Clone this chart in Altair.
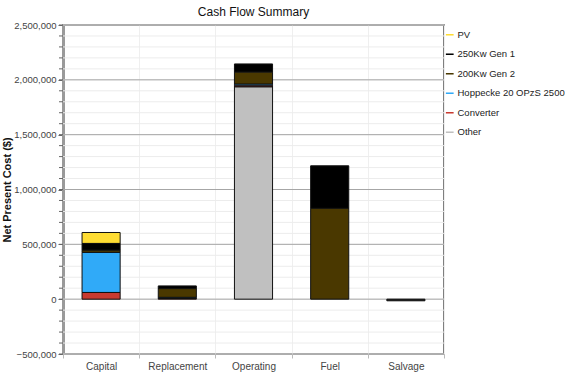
import altair as alt
import pandas as pd

# Cash flow categories and net present cost per component (USD)
categories = ["Capital", "Replacement", "Operating", "Fuel", "Salvage"]
components = ["PV", "250Kw Gen 1", "200Kw Gen 2", "Hoppecke 20 OPzS 2500", "Converter", "Other"]
colors = ["#ffdd33", "#000000", "#4a3800", "#30aaf8", "#c83a30", "#c0c0c0"]

pv = [100000, 0, 0, 0, 0]
gen1 = [62000, 25000, 75000, 388000, -15000]
gen2 = [20000, 80000, 110000, 828000, 0]
hoppecke = [365000, 10000, 15000, 0, 0]
converter = [61000, 6000, 10000, 0, 0]
other = [0, 0, 1935000, 0, 0]

# y axis: labelled major steps and unlabelled minor steps
major_values = [-500000, 0, 500000, 1000000, 1500000, 2000000, 2500000]
minor_values = list(range(-500000, 2500001, 100000))

# stacking order from the bottom up
stack_rank = {"Other": 0, "Converter": 1, "Hoppecke 20 OPzS 2500": 2,
              "200Kw Gen 2": 3, "250Kw Gen 1": 4, "PV": 5}

series = dict(zip(components, [pv, gen1, gen2, hoppecke, converter, other]))
rows = []
for comp, vals in series.items():
    for cat, v in zip(categories, vals):
        if v != 0:
            rows.append({"category": cat, "component": comp, "cost": v,
                         "rank": stack_rank[comp]})
df = pd.DataFrame(rows)

major_df = pd.DataFrame({"y": major_values})
minor_df = pd.DataFrame({"y": minor_values})

FONT = "Liberation Sans"

y_scale = alt.Scale(domain=[-500000, 2500000], nice=False, zero=False)

minor_grid = alt.Chart(minor_df).mark_rule(color="#ececec", strokeWidth=1).encode(
    y=alt.Y("y:Q", scale=y_scale, axis=None)
)

minor_ticks = alt.Chart(minor_df).mark_rule(color="#666666", strokeWidth=1).encode(
    x=alt.value(-4), x2=alt.value(0),
    y=alt.Y("y:Q", scale=y_scale, axis=None)
)

major_grid = alt.Chart(major_df).mark_rule(color="#a6a6a6", strokeWidth=1).encode(
    y=alt.Y("y:Q", scale=y_scale, title="Net Present Cost ($)",
            axis=alt.Axis(values=major_values, format=",d", grid=False,
                          labelOverlap=False, labelBound=False, labelFlush=False,
                          tickSize=5, tickColor="#666666",
                          domainColor="#9a9a9a", domainWidth=3,
                          labelFontSize=9.5, labelColor="#444444", labelFont=FONT,
                          labelPadding=2, titleFontSize=11, titleFontWeight="bold",
                          titleFont=FONT, titleColor="#111111",
                          titleX=-51, titleY=164.5))
)

bars = alt.Chart(df).mark_bar(
    width=alt.RelativeBandSize(0.5), stroke="#111111", strokeWidth=1
).encode(
    x=alt.X("category:N", sort=categories, title=None,
            scale=alt.Scale(paddingInner=0, paddingOuter=0),
            axis=alt.Axis(labelAngle=0, tickBand="extent", grid=True,
                          gridColor="#efefef", domain=False, tickColor="#bbbbbb",
                          tickSize=4, labelPadding=3, labelFontSize=10,
                          labelColor="#444444", labelFont=FONT)),
    y=alt.Y("sum(cost):Q", scale=y_scale, stack="zero", axis=None),
    color=alt.Color("component:N",
                    scale=alt.Scale(domain=components, range=colors),
                    legend=alt.Legend(title=None, orient="none", legendX=382, legendY=5,
                                      symbolType="M-1,-0.2L1,-0.2L1,0.2L-1,0.2Z",
                                      symbolStrokeWidth=0, symbolSize=60,
                                      symbolOffset=0, rowPadding=8.5, labelOffset=3,
                                      labelFontSize=9.5, labelFont=FONT,
                                      labelColor="#222222", labelLimit=140)),
    order=alt.Order("rank:Q", sort="ascending"),
)

chart = alt.layer(minor_grid, major_grid, minor_ticks, bars).resolve_axis(
    y="independent"
).properties(
    width=381,
    height=329,
    title=alt.TitleParams("Cash Flow Summary", fontSize=12, fontWeight="normal",
                          font=FONT, color="#111111", offset=1, anchor="middle"),
    autosize=alt.AutoSizeParams(type="none"),
    padding={"left": 63, "top": 25, "right": 122, "bottom": 19},
).configure_view(stroke="#555555", strokeWidth=1.5)

chart.save("out.html", embed_options={"renderer": "svg", "actions": False})
